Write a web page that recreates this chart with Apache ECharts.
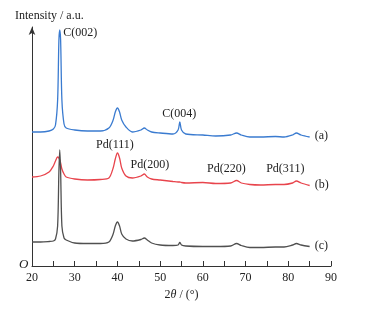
<!DOCTYPE html>
<html>
<head>
<meta charset="utf-8">
<script src="https://cdn.jsdelivr.net/npm/echarts@6/dist/echarts.min.js"></script>
<style>
  html, body { margin: 0; padding: 0; background: #fff; }
  #graph { width: 367px; height: 311px; }
</style>
</head>
<body>
<div id="graph"></div>
<script>
	var chart = echarts.init(document.getElementById('graph'));

	// 2theta positions used for all three patterns
	var twoTheta = [20, 22, 24, 25, 25.5, 26, 26.3, 26.5, 26.7, 27, 27.5, 28, 30, 33, 36, 38, 39, 39.5, 40, 40.5, 41, 42, 43.5,
		45.5, 46.3, 47, 48, 50, 53, 54.2, 54.6, 55, 56, 60, 63, 66.5, 67.9, 69, 71, 73.5, 77, 79, 81, 81.9, 83, 85];

	// (a) blue
	var seriesA = [134, 134, 135, 137, 141, 166, 226, 236, 226, 166, 142, 138, 136, 135, 135, 138, 146, 154, 158, 154, 146, 139, 134,
		136, 138, 136, 134, 133, 132, 136, 144, 136, 132, 131, 130, 131, 133, 131, 129, 129, 129.5, 129, 131, 133, 131, 129];
	// (b) red
	var seriesB = [89, 90, 94, 100, 105, 109, 108, 106, 103, 97, 92, 89, 87, 86, 86.5, 88, 98, 107, 113, 108, 98, 90, 88,
		90, 92, 89, 87, 86, 84.5, 84, 84, 83.5, 83, 83.5, 82.5, 83, 85.5, 83, 81.5, 81, 81.5, 81.5, 83, 85, 83, 80.5];
	// (c) black
	var seriesC = [24, 24, 24.5, 25, 27, 40, 95, 116, 95, 40, 28, 26, 23, 22.5, 22.5, 24, 32, 40, 44, 40, 32, 27, 25,
		26.5, 28, 26, 23, 21, 20.5, 21, 23.5, 21, 20, 19.5, 19.5, 20, 22.5, 20.5, 18.5, 18.5, 19, 19, 21, 22.5, 21, 19.5];

	var curveNames = ['(a)', '(b)', '(c)'];
	var curveLabelY = [130, 81, 20];

	var peakNames = ['C(002)', 'C(004)', 'Pd(111)', 'Pd(200)', 'Pd(220)', 'Pd(311)'];
	var peakX = [27.3, 54.5, 39.4, 47.6, 65.5, 79.3];
	var peakY = [233, 152, 121, 101, 97, 97];

	function pairs(ys) {
		var out = [];
		for (var i = 0; i < twoTheta.length; i++) {
			out.push([twoTheta[i], ys[i]]);
		}
		return out;
	}

	var serif = 'Liberation Serif';

	chart.setOption({
		animation: false,
		grid: { left: 32, right: 36, top: 27, bottom: 45 },
		xAxis: {
			type: 'value',
			min: 20,
			max: 90,
			interval: 10,
			axisLine: { lineStyle: { color: '#333', width: 1 } },
			axisTick: { inside: true, length: 5, lineStyle: { color: '#333' } },
			minorTick: { show: true, splitNumber: 2, length: 5, lineStyle: { color: '#333' } },
			splitLine: { show: false },
			axisLabel: { color: '#222', fontFamily: serif, fontSize: 12, margin: 6 },
			name: '2{i|θ} / (°)',
			nameLocation: 'middle',
			nameGap: 22,
			nameTextStyle: {
				color: '#222', fontFamily: serif, fontSize: 12,
				rich: { i: { fontStyle: 'italic', fontFamily: serif, fontSize: 12, color: '#222' } }
			}
		},
		yAxis: {
			type: 'value',
			min: 0,
			max: 239,
			axisLine: { show: true, symbol: ['none', 'arrow'], symbolSize: [5, 8], lineStyle: { color: '#333', width: 1 } },
			axisTick: { show: false },
			axisLabel: { show: false },
			splitLine: { show: false }
		},
		series: [
			{ name: '(a)', type: 'line', data: pairs(seriesA), showSymbol: false, smooth: 0.3,
				lineStyle: { color: '#3a7bd0', width: 1.3 } },
			{ name: '(b)', type: 'line', data: pairs(seriesB), showSymbol: false, smooth: 0.3,
				lineStyle: { color: '#e8444c', width: 1.3 } },
			{ name: '(c)', type: 'line', data: pairs(seriesC), showSymbol: false, smooth: 0.3,
				lineStyle: { color: '#505050', width: 1.3 } }
		]
	});

	// texts placed through the axis scales
	var txt = { fill: '#222', fontFamily: serif, fontSize: 12 };
	var graphics = [
		{ type: 'text', left: 15, top: 10, style: Object.assign({ text: 'Intensity / a.u.' }, txt) },
		{ type: 'text', left: 19, top: 258, style: Object.assign({ text: 'O', fontStyle: 'italic' }, txt, { fontSize: 13 }) }
	];
	for (var i = 0; i < curveNames.length; i++) {
		var p = chart.convertToPixel({ gridIndex: 0 }, [86.2, curveLabelY[i]]);
		graphics.push({ type: 'text', x: p[0], y: p[1],
			style: Object.assign({ text: curveNames[i], textVerticalAlign: 'middle', verticalAlign: 'middle' }, txt) });
	}
	for (var j = 0; j < peakNames.length; j++) {
		var q = chart.convertToPixel({ gridIndex: 0 }, [peakX[j], peakY[j]]);
		var alignLeft = j === 0;
		graphics.push({ type: 'text', x: q[0], y: q[1],
			style: Object.assign({ text: peakNames[j], align: alignLeft ? 'left' : 'center',
				textAlign: alignLeft ? 'left' : 'center', verticalAlign: 'middle', textVerticalAlign: 'middle' }, txt) });
	}
	chart.setOption({ graphic: graphics });
</script>
</body>
</html>
